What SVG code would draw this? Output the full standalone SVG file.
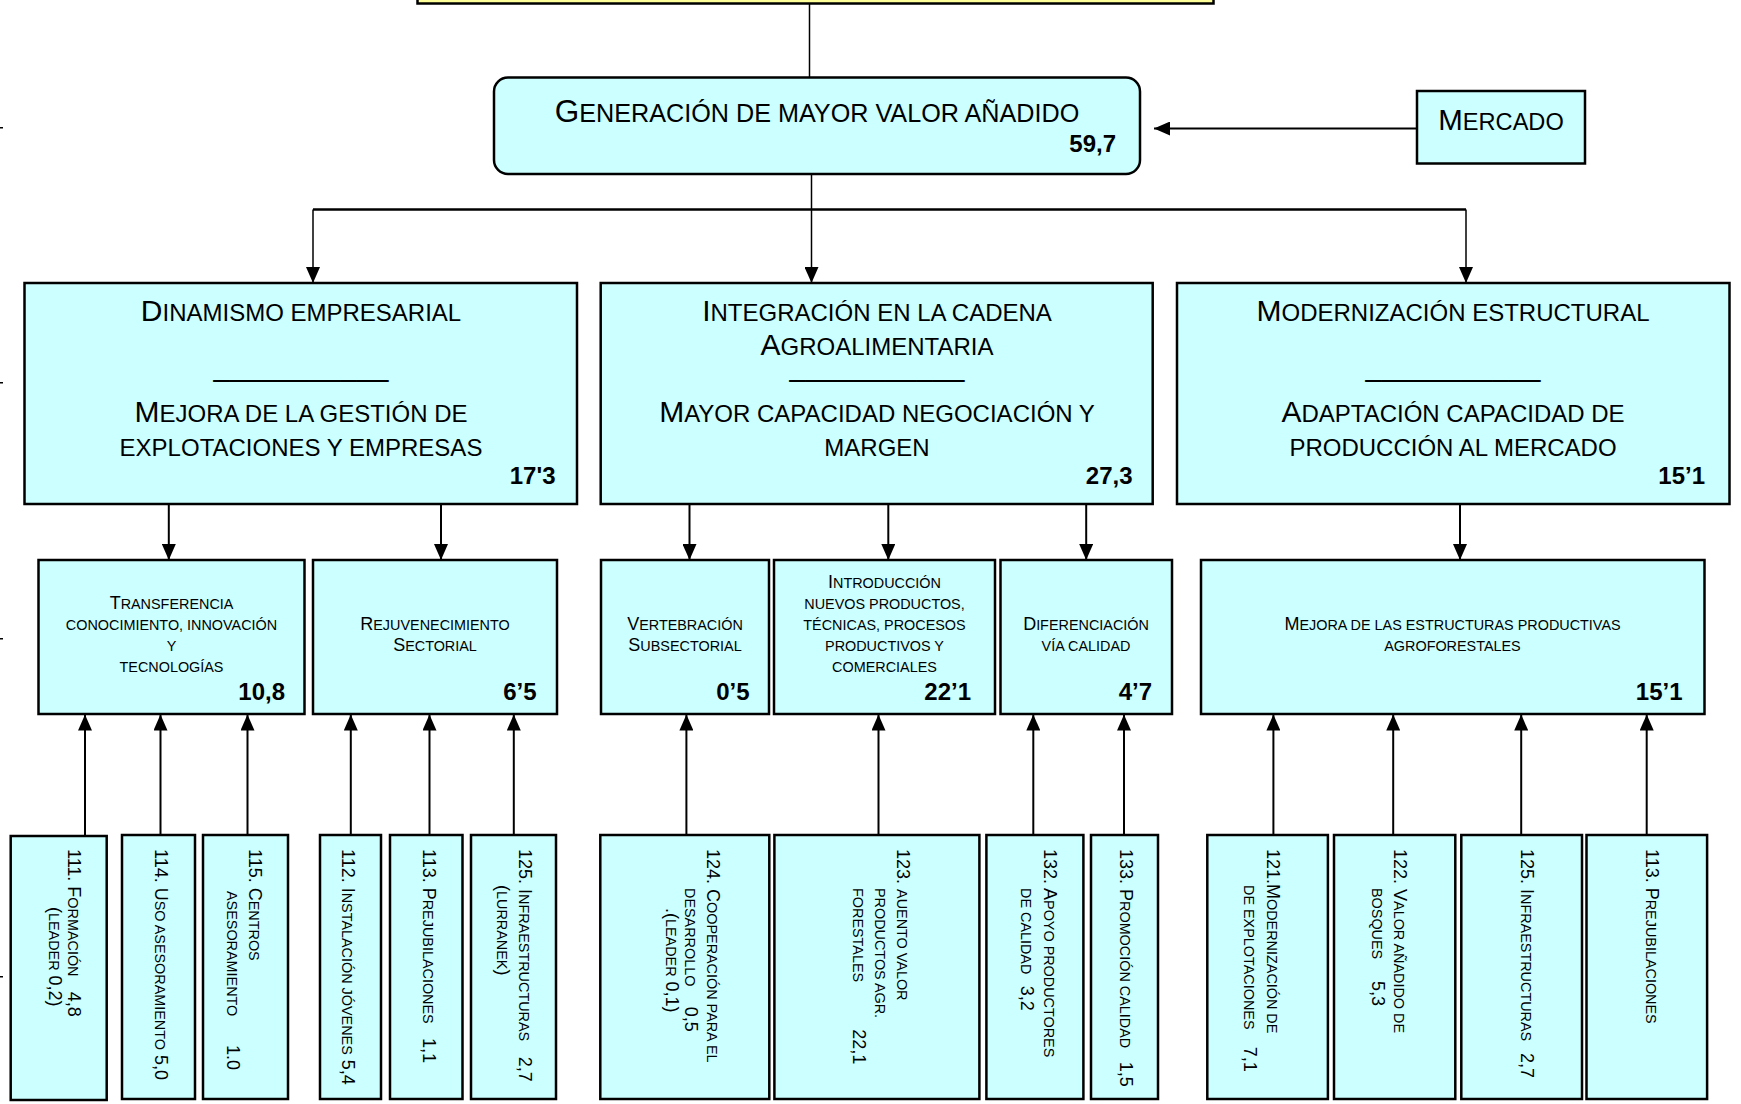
<svg xmlns="http://www.w3.org/2000/svg" width="1741" height="1104" viewBox="0 0 1741 1104">
<defs>
<style>
text{font-family:"Liberation Sans",Arial,sans-serif;fill:#000}
.box{fill:#CCFFFF;stroke:#000;stroke-width:2.5}
.sc{font-size:80%}
.h1{font-size:31.5px}
.h2{font-size:30px}
.h3{font-size:29.5px}
.m{font-size:18px}
.num{font-size:24px;font-weight:bold}
.v{font-size:18px}
.c{fill:none;stroke:#000;stroke-width:2}
.thin{stroke-width:1.5}
.thick{stroke-width:2.6}
.tick{fill:#000}
</style>
<marker id="ah" viewBox="0 0 16 14" refX="16" refY="7" markerWidth="16" markerHeight="14" markerUnits="userSpaceOnUse" orient="auto"><path d="M0,0L16,7L0,14z" fill="#000"/></marker>
</defs>
<rect x="0" y="0" width="1741" height="1104" fill="#fff"/>
<g id="edge-marks">
<rect class="tick" x="0" y="127" width="3" height="1.5"/>
<rect class="tick" x="0" y="382" width="3" height="1.5"/>
<rect class="tick" x="0" y="638" width="3" height="1.5"/>
<rect class="tick" x="0" y="976" width="3" height="1.5"/>
</g>
<g id="connectors">
<line class="c thin" x1="809.5" y1="3" x2="809.5" y2="77.5"/>
<line class="c thin" x1="811.5" y1="174" x2="811.5" y2="209.5"/>
<line class="c thick" x1="313" y1="209.5" x2="1466" y2="209.5"/>
<line class="c thin" x1="313" y1="209.5" x2="313" y2="283" marker-end="url(#ah)"/>
<line class="c thin" x1="811.5" y1="209.5" x2="811.5" y2="283" marker-end="url(#ah)"/>
<line class="c thin" x1="1466" y1="209.5" x2="1466" y2="283" marker-end="url(#ah)"/>
<line class="c" x1="1417" y1="128.5" x2="1154" y2="128.5" marker-end="url(#ah)"/>
<line class="c" x1="168.8" y1="504" x2="168.8" y2="560" marker-end="url(#ah)"/>
<line class="c" x1="441" y1="504" x2="441" y2="560" marker-end="url(#ah)"/>
<line class="c" x1="689.5" y1="504" x2="689.5" y2="560" marker-end="url(#ah)"/>
<line class="c" x1="888.3" y1="504" x2="888.3" y2="560" marker-end="url(#ah)"/>
<line class="c" x1="1086.2" y1="504" x2="1086.2" y2="560" marker-end="url(#ah)"/>
<line class="c" x1="1460" y1="504" x2="1460" y2="560" marker-end="url(#ah)"/>
<line class="c" x1="85" y1="836" x2="85" y2="714.5" marker-end="url(#ah)"/>
<line class="c" x1="160.5" y1="835" x2="160.5" y2="714.5" marker-end="url(#ah)"/>
<line class="c" x1="247.5" y1="835" x2="247.5" y2="714.5" marker-end="url(#ah)"/>
<line class="c" x1="350.8" y1="835" x2="350.8" y2="714.5" marker-end="url(#ah)"/>
<line class="c" x1="429.5" y1="835" x2="429.5" y2="714.5" marker-end="url(#ah)"/>
<line class="c" x1="513.8" y1="835" x2="513.8" y2="714.5" marker-end="url(#ah)"/>
<line class="c" x1="686.4" y1="835" x2="686.4" y2="714.5" marker-end="url(#ah)"/>
<line class="c" x1="878.5" y1="835" x2="878.5" y2="714.5" marker-end="url(#ah)"/>
<line class="c" x1="1033.3" y1="835" x2="1033.3" y2="714.5" marker-end="url(#ah)"/>
<line class="c" x1="1124" y1="835" x2="1124" y2="714.5" marker-end="url(#ah)"/>
<line class="c" x1="1273.4" y1="835" x2="1273.4" y2="714.5" marker-end="url(#ah)"/>
<line class="c" x1="1393.2" y1="835" x2="1393.2" y2="714.5" marker-end="url(#ah)"/>
<line class="c" x1="1521.2" y1="835" x2="1521.2" y2="714.5" marker-end="url(#ah)"/>
<line class="c" x1="1646.7" y1="835" x2="1646.7" y2="714.5" marker-end="url(#ah)"/>
</g>
<g id="top-box">
<rect x="417.5" y="-10" width="796" height="13.5" fill="#FFFF99" stroke="#000" stroke-width="2.5"/>
</g>
<g id="generacion">
<rect class="box" x="494" y="77.5" width="646" height="96.5" rx="14"/>
<text class="h1" x="817" y="122" text-anchor="middle">G<tspan class="sc">ENERACIÓN DE MAYOR VALOR AÑADIDO</tspan></text>
<text class="num" x="1116" y="152" text-anchor="end">59,7</text>
</g>
<g id="mercado">
<rect class="box" x="1417" y="91" width="168" height="72.5"/>
<text class="h3" x="1501" y="129.5" text-anchor="middle">M<tspan class="sc">ERCADO</tspan></text>
</g>
<g id="dinamismo">
<rect class="box" x="24.5" y="283" width="552.5" height="221"/>
<text class="h2" x="301" y="320.5" text-anchor="middle">D<tspan class="sc">INAMISMO EMPRESARIAL</tspan></text>
<text class="h2" x="301" y="375.5" text-anchor="middle" textLength="175" lengthAdjust="spacingAndGlyphs">___________</text>
<text class="h2" x="301" y="422" text-anchor="middle">M<tspan class="sc">EJORA DE LA GESTIÓN DE</tspan></text>
<text class="h2" x="301" y="456" text-anchor="middle"><tspan class="sc">EXPLOTACIONES Y EMPRESAS</tspan></text>
<text class="num" x="555.5" y="484" text-anchor="end">17'3</text>
</g>
<g id="integracion">
<rect class="box" x="600.7" y="283" width="552" height="221"/>
<text class="h2" text-anchor="middle"><tspan x="877" y="320.5">I<tspan class="sc">NTEGRACIÓN EN LA CADENA</tspan></tspan><tspan x="877" y="355">A<tspan class="sc">GROALIMENTARIA</tspan></tspan></text>
<text class="h2" x="877" y="375.5" text-anchor="middle" textLength="175" lengthAdjust="spacingAndGlyphs">___________</text>
<text class="h2" x="877" y="422" text-anchor="middle">M<tspan class="sc">AYOR CAPACIDAD NEGOCIACIÓN Y</tspan></text>
<text class="h2" x="877" y="456" text-anchor="middle"><tspan class="sc">MARGEN</tspan></text>
<text class="num" x="1132.5" y="484" text-anchor="end">27,3</text>
</g>
<g id="modernizacion">
<rect class="box" x="1177" y="283" width="552.5" height="221"/>
<text class="h2" x="1453" y="320.5" text-anchor="middle">M<tspan class="sc">ODERNIZACIÓN ESTRUCTURAL</tspan></text>
<text class="h2" x="1453" y="375.5" text-anchor="middle" textLength="175" lengthAdjust="spacingAndGlyphs">___________</text>
<text class="h2" x="1453" y="422" text-anchor="middle">A<tspan class="sc">DAPTACIÓN CAPACIDAD DE</tspan></text>
<text class="h2" x="1453" y="456" text-anchor="middle"><tspan class="sc">PRODUCCIÓN AL MERCADO</tspan></text>
<text class="num" x="1705" y="484" text-anchor="end">15’1</text>
</g>
<g id="transferencia">
<rect class="box" x="38.5" y="560" width="266" height="154"/>
<text class="m" x="171.5" y="609" text-anchor="middle">T<tspan class="sc">RANSFERENCIA</tspan></text>
<text class="m" x="171.5" y="630" text-anchor="middle"><tspan class="sc">CONOCIMIENTO, INNOVACIÓN</tspan></text>
<text class="m" x="171.5" y="651" text-anchor="middle"><tspan class="sc">Y</tspan></text>
<text class="m" x="171.5" y="672" text-anchor="middle"><tspan class="sc">TECNOLOGÍAS</tspan></text>
<text class="num" x="285" y="700" text-anchor="end">10,8</text>
</g>
<g id="rejuvenecimiento">
<rect class="box" x="313" y="560" width="244" height="154"/>
<text class="m" x="435" y="630" text-anchor="middle">R<tspan class="sc">EJUVENECIMIENTO</tspan></text>
<text class="m" x="435" y="651" text-anchor="middle">S<tspan class="sc">ECTORIAL</tspan></text>
<text class="num" x="536.5" y="700" text-anchor="end">6’5</text>
</g>
<g id="vertebracion">
<rect class="box" x="601" y="560" width="168" height="154"/>
<text class="m" x="685" y="630" text-anchor="middle">V<tspan class="sc">ERTEBRACIÓN</tspan></text>
<text class="m" x="685" y="651" text-anchor="middle">S<tspan class="sc">UBSECTORIAL</tspan></text>
<text class="num" x="749.5" y="700" text-anchor="end">0’5</text>
</g>
<g id="introduccion">
<rect class="box" x="774" y="560" width="221" height="154"/>
<text class="m" x="884.5" y="588" text-anchor="middle">I<tspan class="sc">NTRODUCCIÓN</tspan></text>
<text class="m" x="884.5" y="609" text-anchor="middle"><tspan class="sc">NUEVOS PRODUCTOS,</tspan></text>
<text class="m" x="884.5" y="630" text-anchor="middle"><tspan class="sc">TÉCNICAS, PROCESOS</tspan></text>
<text class="m" x="884.5" y="651" text-anchor="middle"><tspan class="sc">PRODUCTIVOS Y</tspan></text>
<text class="m" x="884.5" y="672" text-anchor="middle"><tspan class="sc">COMERCIALES</tspan></text>
<text class="num" x="971" y="700" text-anchor="end">22’1</text>
</g>
<g id="diferenciacion">
<rect class="box" x="1000.5" y="560" width="171.5" height="154"/>
<text class="m" x="1086" y="630" text-anchor="middle">D<tspan class="sc">IFERENCIACIÓN</tspan></text>
<text class="m" x="1086" y="651" text-anchor="middle"><tspan class="sc">VÍA CALIDAD</tspan></text>
<text class="num" x="1152" y="700" text-anchor="end">4’7</text>
</g>
<g id="mejora-estructuras">
<rect class="box" x="1201" y="560" width="503.5" height="154"/>
<text class="m" x="1452.5" y="630" text-anchor="middle">M<tspan class="sc">EJORA DE LAS ESTRUCTURAS PRODUCTIVAS</tspan></text>
<text class="m" x="1452.5" y="651" text-anchor="middle"><tspan class="sc">AGROFORESTALES</tspan></text>
<text class="num" x="1682.5" y="700" text-anchor="end">15’1</text>
</g>
<g id="m111">
<rect class="box" x="10.7" y="836" width="96" height="264"/>
<text class="v" transform="translate(68,849) rotate(90)">111. F<tspan class="sc">ORMACIÓN</tspan><tspan x="142.7">4,8</tspan></text>
<text class="v" transform="translate(49,907) rotate(90)">(<tspan class="sc">LEADER</tspan> 0,2)</text>
</g>
<g id="m114">
<rect class="box" x="122" y="835" width="73" height="264"/>
<text class="v" transform="translate(155,849) rotate(90)">114. U<tspan class="sc">SO ASESORAMIENTO</tspan> 5,0</text>
</g>
<g id="m115">
<rect class="box" x="203" y="835" width="85" height="264"/>
<text class="v" transform="translate(249,849) rotate(90)">115. C<tspan class="sc">ENTROS</tspan></text>
<text class="v" transform="translate(227,891) rotate(90)"><tspan class="sc">ASESORAMIENTO</tspan><tspan x="154">1.0</tspan></text>
</g>
<g id="m112">
<rect class="box" x="320" y="835" width="61" height="264"/>
<text class="v" transform="translate(342,849) rotate(90)">112. I<tspan class="sc">NSTALACIÓN JÓVENES</tspan> 5,4</text>
</g>
<g id="m113a">
<rect class="box" x="390" y="835" width="72.5" height="264"/>
<text class="v" transform="translate(423,849) rotate(90)">113. P<tspan class="sc">REJUBILACIONES</tspan><tspan x="189">1,1</tspan></text>
</g>
<g id="m125a">
<rect class="box" x="471" y="835" width="85" height="264"/>
<text class="v" transform="translate(518.6,849) rotate(90)">125. I<tspan class="sc">NFRAESTRUCTURAS</tspan><tspan x="207.7">2,7</tspan></text>
<text class="v" transform="translate(497,885) rotate(90)">(<tspan class="sc">LURRANEK</tspan>)</text>
</g>
<g id="m124">
<rect class="box" x="600.3" y="835" width="169" height="264"/>
<text class="v" transform="translate(707.4,849) rotate(90)">124. C<tspan class="sc">OOPERACIÓN PARA EL</tspan></text>
<text class="v" transform="translate(685.2,888) rotate(90)"><tspan class="sc">DESARROLLO</tspan><tspan x="118.7">0,5</tspan></text>
<text class="v" transform="translate(665.5,908) rotate(90)">.(<tspan class="sc">LEADER</tspan> 0,1)</text>
</g>
<g id="m123">
<rect class="box" x="774.4" y="835" width="205" height="264"/>
<text class="v" transform="translate(896.9,849) rotate(90)">123. <tspan class="sc">AUENTO VALOR</tspan></text>
<text class="v" transform="translate(874.7,888) rotate(90)"><tspan class="sc">PRODUCTOS AGR.</tspan></text>
<text class="v" transform="translate(852.5,888) rotate(90)"><tspan class="sc">FORESTALES</tspan><tspan x="141.3">22,1</tspan></text>
</g>
<g id="m132">
<rect class="box" x="986.4" y="835" width="97" height="264"/>
<text class="v" transform="translate(1044.2,849) rotate(90)">132. A<tspan class="sc">POYO PRODUCTORES</tspan></text>
<text class="v" transform="translate(1021.3,888) rotate(90)"><tspan class="sc">DE CALIDAD</tspan><tspan x="97.7">3,2</tspan></text>
</g>
<g id="m133">
<rect class="box" x="1091" y="835" width="67" height="264"/>
<text class="v" transform="translate(1119.6,849) rotate(90)">133. P<tspan class="sc">ROMOCIÓN CALIDAD</tspan><tspan x="212.7">1,5</tspan></text>
</g>
<g id="m121">
<rect class="box" x="1207.3" y="835" width="120.6" height="264"/>
<text class="v" transform="translate(1266.8,849) rotate(90)">121.M<tspan class="sc">ODERNIZACIÓN DE</tspan></text>
<text class="v" transform="translate(1244.2,885) rotate(90)"><tspan class="sc">DE EXPLOTACIONES</tspan><tspan x="161.7">7,1</tspan></text>
</g>
<g id="m122">
<rect class="box" x="1334" y="835" width="121.3" height="264"/>
<text class="v" transform="translate(1394.3,849) rotate(90)">122. V<tspan class="sc">ALOR AÑADIDO DE</tspan></text>
<text class="v" transform="translate(1372.4,888) rotate(90)"><tspan class="sc">BOSQUES</tspan><tspan x="93">5,3</tspan></text>
</g>
<g id="m125b">
<rect class="box" x="1461.3" y="835" width="120.7" height="264"/>
<text class="v" transform="translate(1521.3,849) rotate(90)">125. I<tspan class="sc">NFRAESTRUCTURAS</tspan><tspan x="204">2,7</tspan></text>
</g>
<g id="m113b">
<rect class="box" x="1586.5" y="835" width="120.6" height="264"/>
<text class="v" transform="translate(1645.7,849) rotate(90)">113. P<tspan class="sc">REJUBILACIONES</tspan></text>
</g>
</svg>
